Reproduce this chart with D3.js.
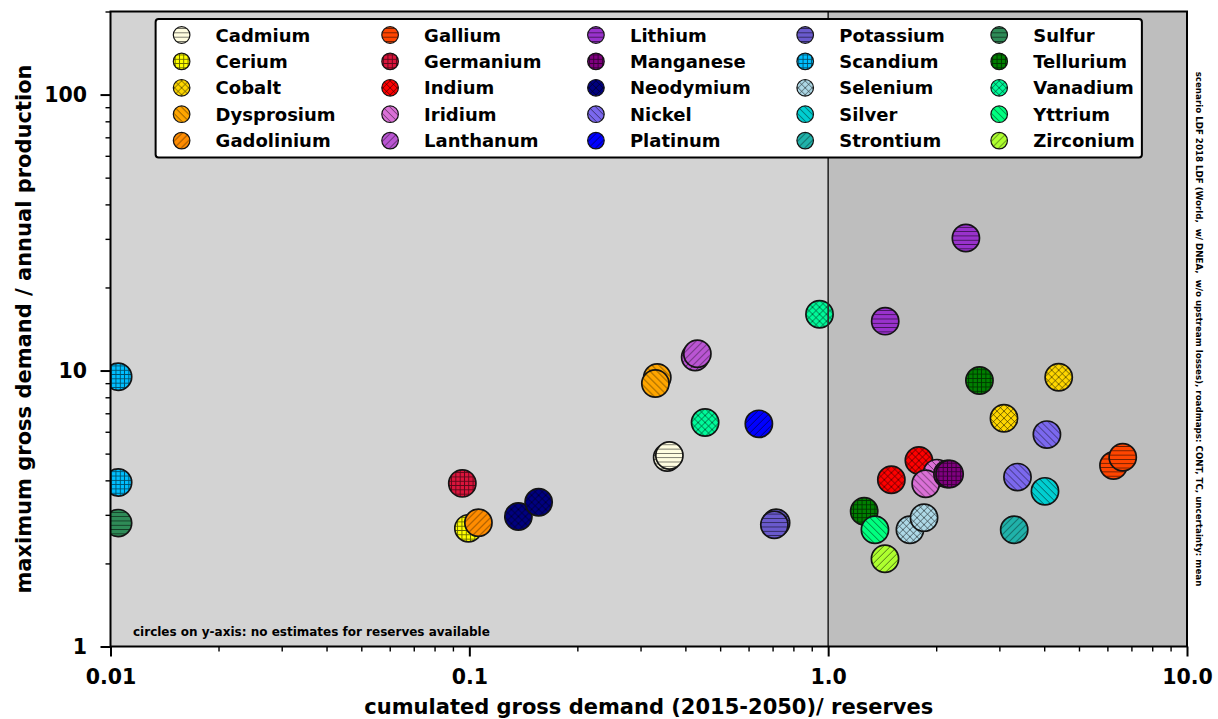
<!DOCTYPE html>
<html>
<head>
<meta charset="utf-8">
<script src="https://cdn.jsdelivr.net/npm/d3@7"></script>
<style>
  body { margin: 0; background: #fff; }
  text { font-family: "DejaVu Sans", sans-serif; font-weight: bold; }
</style>
</head>
<body>
<div id="chart"></div>
<script>
// elements in legend order (5 rows x 5 columns)
const elements = ['Cadmium', 'Cerium', 'Cobalt', 'Dysprosium', 'Gadolinium',
  'Gallium', 'Germanium', 'Indium', 'Iridium', 'Lanthanum',
  'Lithium', 'Manganese', 'Neodymium', 'Nickel', 'Platinum',
  'Potassium', 'Scandium', 'Selenium', 'Silver', 'Strontium',
  'Sulfur', 'Tellurium', 'Vanadium', 'Yttrium', 'Zirconium'];

const colors = ['#fffde0', '#ffff00', '#ffd700', '#ffa500', '#ff8c00',
  '#ff4500', '#dc143c', '#ff0000', '#da70d6', '#ba55d3',
  '#9932cc', '#800080', '#000080', '#7b68ee', '#0000ff',
  '#6a5acd', '#00bfff', '#add8e6', '#00ced1', '#20b2aa',
  '#2e8b57', '#008000', '#00fa9a', '#00ff7f', '#adff2f'];

const hatchCycle = ['-', '+', 'x', '\\', '/'];

// cumulated gross demand (2015-2050) / reserves, per element
const reserveRatio = [[0.356, 0.361], [0.0994], [4.39, 3.09], [0.334, 0.330], [0.106],
  [6.24, 6.62], [0.0956], [1.79, 1.50], [2.01, 1.87], [0.426, 0.432],
  [1.442, 2.42], [2.15, 2.18], [0.137, 0.156], [4.07, 3.37], [0.641],
  [0.716, 0.708], [0.0105, 0.0105], [1.69, 1.85], [4.02], [3.30],
  [0.0105], [2.64, 1.26], [0.454, 0.946], [1.35], [1.44]];

// maximum gross demand / annual production, per element
const demandRatio = [[4.84, 4.92], [2.68], [9.46, 6.72], [9.43, 8.97], [2.81],
  [4.53, 4.85], [3.9], [4.72, 4.02], [4.25, 3.89], [11.2, 11.5],
  [15.1, 30.2], [4.22, 4.22], [2.96, 3.33], [5.86, 4.11], [6.41],
  [2.81, 2.76], [9.5, 3.93], [2.65, 2.93], [3.65], [2.65],
  [2.8], [9.2, 3.09], [6.48, 16.0], [2.65], [2.08]];

const xTicks = [0.01, 0.1, 1, 10];
const xTickLabels = ['0.01', '0.1', '1.0', '10.0'];
const yTicks = [1, 10, 100];
const yTickLabels = ['1', '10', '100'];

const W = 1218, H = 719;
const m = { left: 110.5, right: 1187, top: 11.5, bottom: 646.5 };

const svg = d3.select('#chart').append('svg')
  .attr('width', W).attr('height', H);

const x = d3.scaleLog().domain([0.01, 10]).range([m.left, m.right]);
const y = d3.scaleLog().domain([1, 200]).range([m.bottom, m.top]);

// hatch patterns
const defs = svg.append('defs');
const hatchStroke = (p) => p.attr('stroke', '#000').attr('stroke-width', 0.9).attr('stroke-opacity', 0.6);
const hs = 4.3, ds = 7;
let p = defs.append('pattern').attr('id', 'h0').attr('patternUnits', 'userSpaceOnUse')
  .attr('width', hs).attr('height', hs);
hatchStroke(p.append('path').attr('d', `M0,${hs / 2}H${hs}`));
p = defs.append('pattern').attr('id', 'h1').attr('patternUnits', 'userSpaceOnUse')
  .attr('width', hs).attr('height', hs);
hatchStroke(p.append('path').attr('d', `M0,${hs / 2}H${hs}M${hs / 2},0V${hs}`));
p = defs.append('pattern').attr('id', 'h2').attr('patternUnits', 'userSpaceOnUse')
  .attr('width', ds).attr('height', ds);
hatchStroke(p.append('path').attr('d', `M0,0L${ds},${ds}M0,${ds}L${ds},0`));
p = defs.append('pattern').attr('id', 'h3').attr('patternUnits', 'userSpaceOnUse')
  .attr('width', ds).attr('height', ds);
hatchStroke(p.append('path').attr('d', `M-1,-1L${ds + 1},${ds + 1}M${ds - 1},-1L${ds + 1},1M-1,${ds - 1}L1,${ds + 1}`));
p = defs.append('pattern').attr('id', 'h4').attr('patternUnits', 'userSpaceOnUse')
  .attr('width', ds).attr('height', ds);
hatchStroke(p.append('path').attr('d', `M-1,${ds + 1}L${ds + 1},-1M-1,1L1,-1M${ds - 1},${ds + 1}L${ds + 1},${ds - 1}`));

defs.append('clipPath').attr('id', 'plotClip').append('rect')
  .attr('x', m.left).attr('y', m.top)
  .attr('width', m.right - m.left).attr('height', m.bottom - m.top);

// background halves
svg.append('rect').attr('x', x(0.01)).attr('y', m.top)
  .attr('width', x(1) - x(0.01)).attr('height', m.bottom - m.top).attr('fill', '#d3d3d3');
svg.append('rect').attr('x', x(1)).attr('y', m.top)
  .attr('width', x(10) - x(1)).attr('height', m.bottom - m.top).attr('fill', '#bebebe');

// points
const points = [];
elements.forEach((el, i) => {
  reserveRatio[i].forEach((rv, j) => {
    points.push({ el, i, x: rv, y: demandRatio[i][j] });
  });
});

const marker = (sel, r) => {
  sel.append('circle').attr('r', r).attr('fill', (d) => colors[d.i]);
  sel.append('circle').attr('r', r).attr('fill', (d) => `url(#h${d.i % 5})`)
    .attr('stroke', '#141414').attr('stroke-width', r > 10 ? 1.7 : 1.2);
};

const pts = svg.append('g').attr('clip-path', 'url(#plotClip)')
  .selectAll('g').data(points).enter().append('g')
  .attr('transform', (d) => `translate(${x(d.x)},${y(d.y)})`);
marker(pts, 13.6);

// vertical line at 1.0
svg.append('line').attr('x1', x(1)).attr('x2', x(1))
  .attr('y1', m.top).attr('y2', m.bottom)
  .attr('stroke', '#2a2a2a').attr('stroke-width', 1.6);

// axes
const minor = (lo, hi) => {
  const out = [];
  for (let e = Math.floor(Math.log10(lo)); e <= Math.ceil(Math.log10(hi)); e++) {
    for (let k = 2; k <= 9; k++) {
      const v = k * Math.pow(10, e);
      if (v >= lo * 0.999 && v <= hi * 1.001) out.push(v);
    }
  }
  return out;
};

const styleAxis = (g, size) => {
  g.select('.domain').remove();
  g.selectAll('.tick line').attr('stroke', '#000').attr('stroke-width', size);
  g.selectAll('.tick text').attr('fill', '#000')
    .style('font-size', '20.5px').style('font-family', '"DejaVu Sans", sans-serif').style('font-weight', 'bold');
};

svg.append('g').attr('transform', `translate(0,${m.bottom})`)
  .call(d3.axisBottom(x).tickValues(minor(0.01, 10)).tickSize(5).tickFormat(''))
  .call((g) => styleAxis(g, 1.4));
svg.append('g').attr('transform', `translate(0,${m.bottom})`)
  .call(d3.axisBottom(x).tickValues(xTicks).tickSize(10).tickPadding(13)
    .tickFormat((d, i) => xTickLabels[i]))
  .call((g) => styleAxis(g, 2));
svg.append('g').attr('transform', `translate(${m.left},0)`)
  .call(d3.axisLeft(y).tickValues(minor(1, 200)).tickSize(5).tickFormat(''))
  .call((g) => styleAxis(g, 1.4));
svg.append('g').attr('transform', `translate(${m.left},0)`)
  .call(d3.axisLeft(y).tickValues(yTicks).tickSize(10).tickPadding(13.5)
    .tickFormat((d, i) => yTickLabels[i]))
  .call((g) => styleAxis(g, 2));

// spines
svg.append('rect').attr('x', m.left).attr('y', m.top)
  .attr('width', m.right - m.left).attr('height', m.bottom - m.top)
  .attr('fill', 'none').attr('stroke', '#000').attr('stroke-width', 2);

// axis titles
svg.append('text').attr('x', (m.left + m.right) / 2).attr('y', 714)
  .attr('text-anchor', 'middle').style('font-size', '21px')
  .text('cumulated gross demand (2015-2050)/ reserves');
svg.append('text')
  .attr('transform', `translate(31,${(m.top + m.bottom) / 2}) rotate(-90)`)
  .attr('text-anchor', 'middle').style('font-size', '21px')
  .text('maximum gross demand / annual production');

// notes
svg.append('text').attr('x', 133).attr('y', 635.5).style('font-size', '12px')
  .text('circles on y-axis: no estimates for reserves available');
svg.append('text')
  .attr('transform', `translate(1196,${(m.top + m.bottom) / 2}) rotate(90)`)
  .attr('text-anchor', 'middle').style('font-size', '8.7px').style('white-space', 'pre')
  .text('scenario LDF 2018 LDF (World,  w/ DNEA,  w/o upstream losses), roadmaps: CONT, TC, uncertainty: mean');

// legend
const rows = 5, rowH = 26.4, markerToText = 34, colGap = 54.5;
const legend = svg.append('g');
const box = legend.append('rect').attr('fill', '#fff').attr('stroke', '#000')
  .attr('stroke-width', 2).attr('rx', 3);
const items = legend.selectAll('g.item').data(elements.map((el, i) => ({ el, i })))
  .enter().append('g').attr('class', 'item');
items.append('text').style('font-size', '18px').attr('x', markerToText).attr('y', 6.5)
  .text((d) => d.el);
const widths = [];
items.each(function (d) {
  const c = Math.floor(d.i / rows);
  const w = this.querySelector('text').getComputedTextLength();
  widths[c] = Math.max(widths[c] || 0, w);
});
const colX = [0];
for (let c = 1; c < widths.length; c++) {
  colX[c] = colX[c - 1] + markerToText + widths[c - 1] + colGap;
}
const padL = 26, padR = 7, padT = 16, padB = 17;
const legW = padL + colX[colX.length - 1] + markerToText + widths[widths.length - 1] + padR;
const legH = padT + (rows - 1) * rowH + padB;
const legX = (m.left + m.right) / 2 - legW / 2, legY = 19;
box.attr('x', legX).attr('y', legY).attr('width', legW).attr('height', legH);
items.attr('transform', (d) => `translate(${legX + padL + colX[Math.floor(d.i / rows)]},${legY + padT + (d.i % rows) * rowH})`);
marker(items, 8.3);
items.selectAll('text').raise();
</script>
</body>
</html>
